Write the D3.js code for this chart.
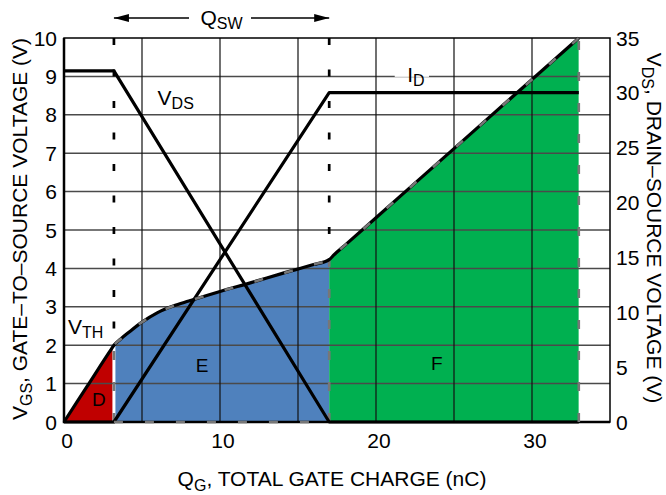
<!DOCTYPE html>
<html>
<head>
<meta charset="utf-8">
<script src="https://cdn.jsdelivr.net/npm/d3@7"></script>
<style>
  body { margin: 0; background: #fff; }
  text { font-family: "Liberation Sans", Arial, sans-serif; fill: #000; }
</style>
</head>
<body>
<svg id="chart" width="666" height="495"></svg>
<script>
// gate charge curve (nC, V)
const qgPoints = [0, 1.5, 3.0, 3.2, 3.6, 4.2, 5, 6, 7, 8, 10, 12, 14, 16, 17, 17.3, 18, 20, 25, 30, 33];
const vgsValues = [0, 0.94, 1.88, 2.0, 2.15, 2.35, 2.6, 2.85, 3.02, 3.15, 3.4, 3.63, 3.87, 4.1, 4.23, 4.35, 4.6, 5.32, 7.12, 8.92, 10];

// drain-source voltage, right axis (V)
const vdsCharge = [0, 3.2, 17, 33];
const vdsValues = [32, 32, 0, 0];

// drain current, drawn against the left scale (no own axis)
const idCharge = [0, 3.2, 17, 33];
const idValues = [0, 0, 8.58, 8.58];

const regionNames = ["D", "E", "F"];
const regionStart = [0, 3.2, 17];
const regionEnd = [3.2, 17, 33];

const xTicks = [0, 10, 20, 30];
const xGrid = [5, 10, 15, 20, 25, 30];
const yTicks = [0, 1, 2, 3, 4, 5, 6, 7, 8, 9, 10];
const yRightTicks = [0, 5, 10, 15, 20, 25, 30, 35];

const svg = d3.select("#chart");
const plotLeft = 64, plotRight = 610, plotTop = 38, plotBottom = 422;

const x = d3.scaleLinear().domain([0, 35]).range([plotLeft, plotRight]);
const y = d3.scaleLinear().domain([0, 10]).range([plotBottom, plotTop]);
const yR = d3.scaleLinear().domain([0, 35]).range([plotBottom, plotTop]);

const vgsData = qgPoints.map((q, i) => ({q: q, v: vgsValues[i]}));
const vgsAt = q => vgsValues[qgPoints.indexOf(q)];

const regionColors = ["#c00000", "#4f81bd", "#00b050"];
const defs = svg.append("defs");

// clip each region so the white gap around the first dashed line shows
regionNames.forEach((name, i) => {
    const x0 = x(regionStart[i]) + (i === 1 ? 1.5 : 0);
    const x1 = x(regionEnd[i]) - (i === 0 ? 1.5 : 0);
    defs.append("clipPath")
        .attr("id", "clip" + name)
        .append("rect")
        .attr("x", x0)
        .attr("y", 0)
        .attr("width", x1 - x0)
        .attr("height", 495);
});
defs.append("clipPath")
    .attr("id", "clipOutline")
    .append("rect")
    .attr("x", x(3.2))
    .attr("y", 0)
    .attr("width", x(33) - x(3.2))
    .attr("height", 495);

const vgsArea = d3.area()
    .x(d => x(d.q))
    .y0(y(0))
    .y1(d => y(d.v))
    .curve(d3.curveMonotoneX);

const vgsLine = d3.line()
    .x(d => x(d.q))
    .y(d => y(d.v))
    .curve(d3.curveMonotoneX);

regionNames.forEach((name, i) => {
    svg.append("path")
        .datum(vgsData)
        .attr("d", vgsArea)
        .attr("fill", regionColors[i])
        .attr("clip-path", "url(#clip" + name + ")");
});

// grid
svg.selectAll(".hgrid")
    .data(yTicks.slice(1, -1))
    .enter()
    .append("line")
    .attr("class", "hgrid")
    .attr("x1", plotLeft)
    .attr("x2", plotRight)
    .attr("y1", d => y(d))
    .attr("y2", d => y(d))
    .attr("stroke", "#4a4a4a")
    .attr("stroke-width", 1.5);

svg.selectAll(".vgrid")
    .data(xGrid)
    .enter()
    .append("line")
    .attr("class", "vgrid")
    .attr("x1", d => x(d))
    .attr("x2", d => x(d))
    .attr("y1", plotTop)
    .attr("y2", plotBottom)
    .attr("stroke", "#111")
    .attr("stroke-width", 1.2);

// frame
svg.append("rect")
    .attr("x", plotLeft)
    .attr("y", plotTop)
    .attr("width", plotRight - plotLeft)
    .attr("height", plotBottom - plotTop)
    .attr("fill", "none")
    .attr("stroke", "#000")
    .attr("stroke-width", 1.5);
svg.append("path")
    .attr("d", `M${plotLeft},${plotTop}V${plotBottom}H${plotRight}`)
    .attr("fill", "none")
    .attr("stroke", "#000")
    .attr("stroke-width", 2.5);

// QSW boundary markers: black dashes above the curve, grey below
[3.2, 17].forEach(q => {
    svg.append("line")
        .attr("x1", x(q)).attr("x2", x(q))
        .attr("y1", plotTop).attr("y2", y(vgsAt(q)))
        .attr("stroke", "#000")
        .attr("stroke-width", 2.7)
        .attr("stroke-dasharray", "7,24.5");
    svg.append("line")
        .attr("x1", x(q)).attr("x2", x(q))
        .attr("y1", plotBottom).attr("y2", y(vgsAt(q)))
        .attr("stroke", "#777")
        .attr("stroke-width", 2.7)
        .attr("stroke-dasharray", "9,22");
});

// curves
svg.append("path")
    .datum(vdsCharge.map((q, i) => ({q: q, v: vdsValues[i]})))
    .attr("d", d3.line().x(d => x(d.q)).y(d => yR(d.v)))
    .attr("fill", "none")
    .attr("stroke", "#000")
    .attr("stroke-width", 3.2)
    .attr("stroke-linejoin", "round");

svg.append("path")
    .datum(idCharge.map((q, i) => ({q: q, v: idValues[i]})))
    .attr("d", d3.line().x(d => x(d.q)).y(d => y(d.v)))
    .attr("fill", "none")
    .attr("stroke", "#000")
    .attr("stroke-width", 3.2)
    .attr("stroke-linejoin", "round");

svg.append("path")
    .datum(vgsData)
    .attr("d", vgsLine)
    .attr("fill", "none")
    .attr("stroke", "#000")
    .attr("stroke-width", 3.2)
    .attr("stroke-linejoin", "round");

// grey dashed outline of E and F
svg.append("path")
    .datum(vgsData)
    .attr("d", vgsLine)
    .attr("fill", "none")
    .attr("stroke", "#777")
    .attr("stroke-width", 2.6)
    .attr("stroke-dasharray", "9,22")
    .attr("clip-path", "url(#clipOutline)");
svg.append("line")
    .attr("x1", x(3.2)).attr("x2", x(17))
    .attr("y1", y(0)).attr("y2", y(0))
    .attr("stroke", "#777")
    .attr("stroke-width", 2.6)
    .attr("stroke-dasharray", "9,22");
svg.append("line")
    .attr("x1", x(33)).attr("x2", x(33))
    .attr("y1", y(0)).attr("y2", y(10))
    .attr("stroke", "#777")
    .attr("stroke-width", 2.6)
    .attr("stroke-dasharray", "9,22");

// tick labels
svg.selectAll(".xtick")
    .data(xTicks)
    .enter()
    .append("text")
    .attr("class", "xtick")
    .attr("x", d => x(d) + 3)
    .attr("y", 448)
    .attr("text-anchor", "middle")
    .style("font-size", "21px")
    .text(d => d);

svg.selectAll(".ytick")
    .data(yTicks)
    .enter()
    .append("text")
    .attr("class", "ytick")
    .attr("x", 57)
    .attr("y", d => y(d))
    .attr("dy", "0.36em")
    .attr("text-anchor", "end")
    .style("font-size", "21px")
    .text(d => d);

svg.selectAll(".yrtick")
    .data(yRightTicks)
    .enter()
    .append("text")
    .attr("class", "yrtick")
    .attr("x", 616)
    .attr("y", d => yR(d))
    .attr("dy", "0.36em")
    .attr("text-anchor", "start")
    .style("font-size", "21px")
    .text(d => d);

// text with a subscript part
function subText(parent, main, sub, rest, size, subSize, shift) {
    const t = parent.append("text").style("font-size", size + "px");
    t.append("tspan").text(main);
    t.append("tspan").attr("dy", shift).style("font-size", subSize + "px").text(sub);
    if (rest) t.append("tspan").attr("dy", -shift).text(rest);
    return t;
}

// axis titles
subText(svg, "Q", "G", ", TOTAL GATE CHARGE (nC)", 21, 16, 5)
    .attr("x", 332).attr("y", 486).attr("text-anchor", "middle");

subText(svg, "V", "GS", ", GATE\u2013TO\u2013SOURCE VOLTAGE (V)", 21, 16, 5)
    .attr("text-anchor", "middle")
    .attr("transform", "translate(27,229) rotate(-90)");

subText(svg, "V", "DS", ", DRAIN\u2013SOURCE VOLTAGE (V)", 21, 16, 5)
    .attr("text-anchor", "middle")
    .attr("transform", "translate(647,228) rotate(90)");

// curve labels
subText(svg, "V", "DS", null, 21, 16, 4)
    .attr("x", x(6.0)).attr("y", y(8.26));
subText(svg, "V", "TH", null, 21, 16, 4)
    .attr("x", x(0.26)).attr("y", y(2.29));

svg.append("rect")
    .attr("x", x(21.2)).attr("y", y(9.3))
    .attr("width", x(23.4) - x(21.2)).attr("height", 12)
    .attr("fill", "#fff");
subText(svg, "I", "D", null, 21, 16, 4)
    .attr("x", x(22.0)).attr("y", y(8.85));

// region letters
const regionLabelQ = [2.24, 8.85, 23.9];
const regionLabelV = [0.6, 1.48, 1.54];
svg.selectAll(".region-label")
    .data(regionNames)
    .enter()
    .append("text")
    .attr("class", "region-label")
    .attr("x", (d, i) => x(regionLabelQ[i]))
    .attr("y", (d, i) => y(regionLabelV[i]))
    .attr("dy", "0.36em")
    .attr("text-anchor", "middle")
    .style("font-size", "19px")
    .text(d => d);

// QSW span arrow
const arrowY = 18;
subText(svg, "Q", "SW", null, 21, 16, 4)
    .attr("x", x(8.75)).attr("y", 25);

svg.append("line")
    .attr("x1", x(3.2)).attr("x2", 189)
    .attr("y1", arrowY).attr("y2", arrowY)
    .attr("stroke", "#000").attr("stroke-width", 1.5);
svg.append("line")
    .attr("x1", 251).attr("x2", x(17))
    .attr("y1", arrowY).attr("y2", arrowY)
    .attr("stroke", "#000").attr("stroke-width", 1.5);
svg.append("path")
    .attr("d", `M${x(3.2)},${arrowY}l15,-4v8z`)
    .attr("fill", "#000");
svg.append("path")
    .attr("d", `M${x(17)},${arrowY}l-15,-4v8z`)
    .attr("fill", "#000");
</script>
</body>
</html>
